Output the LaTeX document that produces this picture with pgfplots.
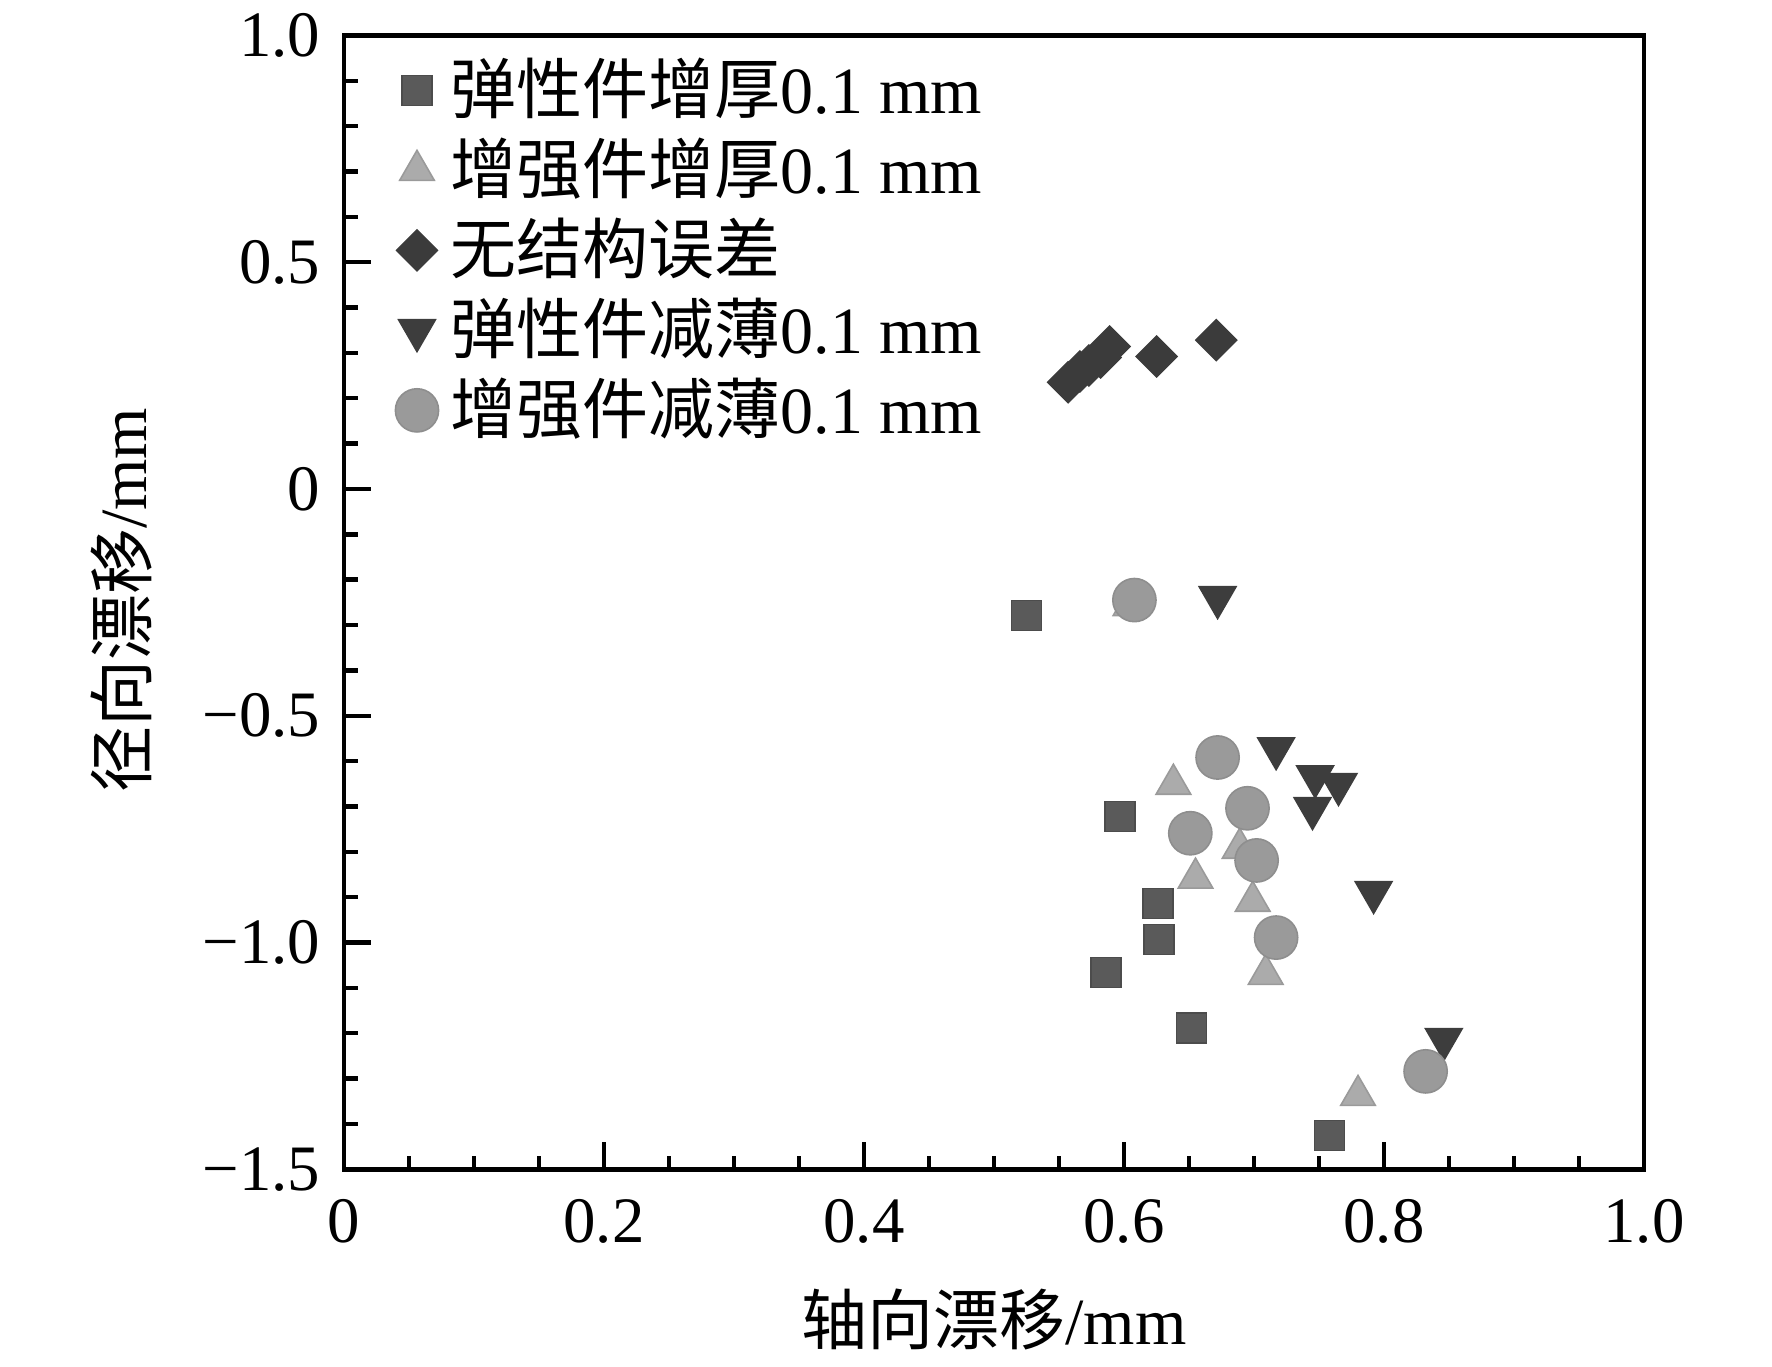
\documentclass[border=0pt]{standalone}
\usepackage{fontspec}
\setmainfont{Liberation Serif}
\newfontfamily\cjk{Noto Sans CJK SC}
\usepackage{pgfplots}
\pgfplotsset{compat=1.18}
\definecolor{csq}{HTML}{5A5A5A}
\definecolor{ctri}{HTML}{ABABAB}
\definecolor{cdia}{HTML}{3B3B3B}
\definecolor{cdown}{HTML}{3D3D3D}
\definecolor{ccir}{HTML}{9A9A9A}
\begin{document}
\begin{tikzpicture}
\begin{axis}[
  at={(0,0)}, anchor=south west,
  scale only axis, width=325pt, height=283.5pt,
  xmin=0, xmax=1, ymin=-1.5, ymax=1,
  axis line style={line width=1.1pt},
  tick style={black, line width=1.1pt},
  tick align=inside,
  xtick pos=bottom, ytick pos=left,
  xtick={0,0.2,0.4,0.6,0.8,1},
  xticklabels={0,0.2,0.4,0.6,0.8,1.0},
  minor x tick num=3,
  ytick={-1.5,-1,-0.5,0,0.5,1},
  yticklabels={−1.5,−1.0,−0.5,0,0.5,1.0},
  minor y tick num=4,
  major tick length=6.75pt, minor tick length=3.4pt,
  /pgf/number format/assume math mode=true,
  tick label style={font=\fontsize{16.2}{19}\selectfont},
  yticklabel style={xshift=-2.4pt},
  xticklabel style={yshift=-3.9pt},
  xlabel={{\cjk 轴向漂移}/mm},
  ylabel={{\cjk 径向漂移}/mm},
  label style={font=\fontsize{16.5}{19}\selectfont},
  xlabel style={at={(axis description cs:0.5,-0.132)}, anchor=center},
  ylabel style={at={(axis description cs:-0.1715,0.5018)}, anchor=center},
  legend cell align=left,
  legend image code/.code={\draw[mark repeat=2,mark phase=2,#1] plot coordinates {(0pt,1.1pt)(4pt,1.1pt)(8pt,1.1pt)};},
  legend style={at={(axis description cs:0,1)}, anchor=north west,
    xshift=12.85pt, yshift=-7.1pt, draw=none, fill=none,
    inner sep=0pt, outer sep=0pt, row sep=4.5pt, column sep=3pt,
    font=\fontsize{16.5}{19}\selectfont,
    nodes={inner sep=0pt, text height=12.5pt, text depth=3pt}},
]
\addplot[only marks, mark=square*, mark size=3.75pt,
  mark options={fill=csq, draw=csq!85!black, line width=0.4pt}]
  coordinates {(0.525,-0.279) (0.597,-0.722) (0.626,-0.914) (0.627,-0.993)
               (0.586,-1.066) (0.652,-1.189) (0.758,-1.425)};
\addlegendentry{{\cjk 弹性件增厚}0.1 mm}
\addplot[only marks, mark=triangle*, mark size=5pt,
  mark options={fill=ctri, draw=ctri!90!black, line width=0.4pt}]
  coordinates {(0.605,-0.257) (0.638,-0.651) (0.689,-0.792) (0.655,-0.858)
               (0.699,-0.909) (0.709,-1.070) (0.780,-1.337)};
\addlegendentry{{\cjk 增强件增厚}0.1 mm}
\addplot[only marks, mark=square*, mark size=3.6pt,
  mark options={rotate=45, fill=cdia, draw=cdia, line width=0.4pt}]
  coordinates {(0.557,0.235) (0.566,0.259) (0.573,0.272) (0.582,0.290)
               (0.589,0.314) (0.625,0.292) (0.671,0.328)};
\addlegendentry{{\cjk 无结构误差}}
\addplot[only marks, mark=triangle*, mark size=5.3pt,
  mark options={rotate=180, fill=cdown, draw=cdown, line width=0.4pt}]
  coordinates {(0.672,-0.239) (0.717,-0.572) (0.747,-0.634) (0.765,-0.651)
               (0.745,-0.704) (0.792,-0.889) (0.846,-1.213)};
\addlegendentry{{\cjk 弹性件减薄}0.1 mm}
\addplot[only marks, mark=*, mark size=5.4pt,
  mark options={fill=ccir, draw=ccir!92!black, line width=0.4pt}]
  coordinates {(0.608,-0.245) (0.672,-0.592) (0.695,-0.704) (0.651,-0.759)
               (0.702,-0.819) (0.717,-0.989) (0.832,-1.284)};
\addlegendentry{{\cjk 增强件减薄}0.1 mm}
\end{axis}
\path[use as bounding box] (-86pt,-49.25pt) rectangle (357pt,291.75pt);
\end{tikzpicture}
\end{document}
